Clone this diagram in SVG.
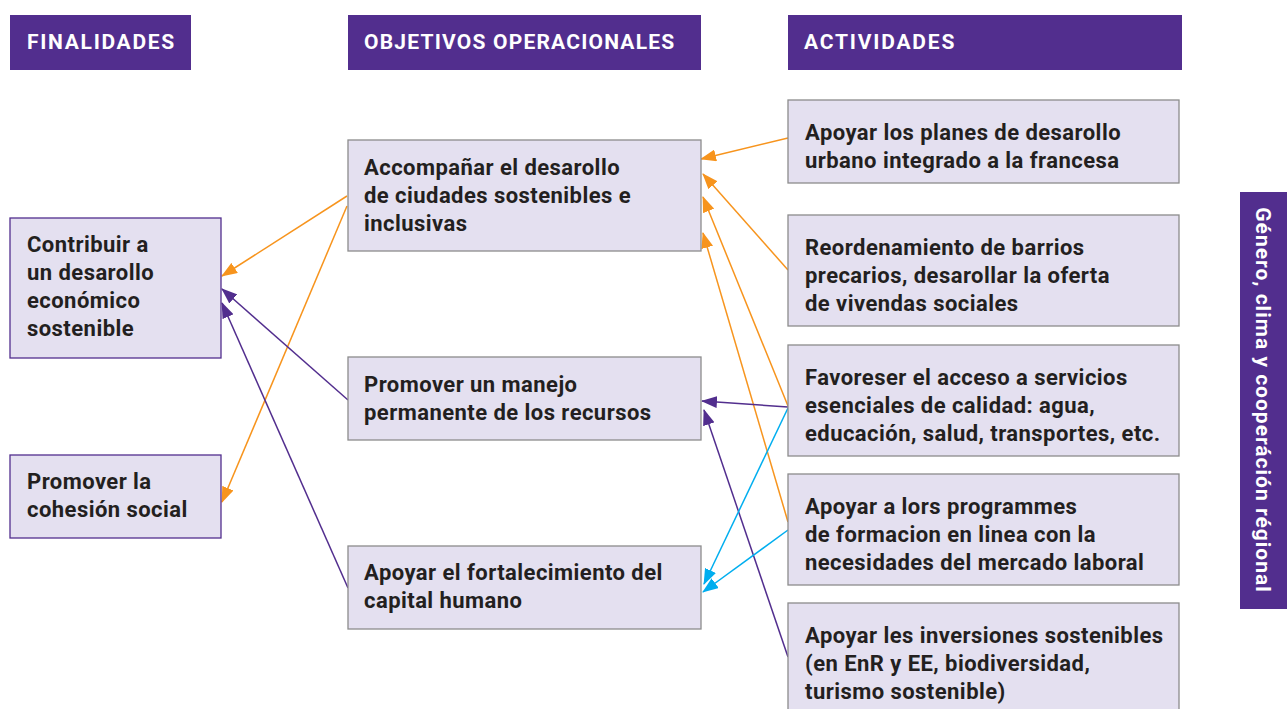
<svg xmlns="http://www.w3.org/2000/svg" width="1287" height="709" viewBox="0 0 1287 709">
<style>
.hdr{fill:#522e8e}
.hdrt{fill:#fff;font-family:Roboto,"Liberation Sans",sans-serif;font-weight:bold;font-size:21px;letter-spacing:1.2px}
.box{fill:#e4e0f0;stroke:#8c8c8c;stroke-width:1.3}
.boxl{fill:#e4e0f0;stroke:#522e8e;stroke-width:1.3}
.t{fill:#231f20;font-family:Roboto,"Liberation Sans",sans-serif;font-weight:bold;font-size:22px;letter-spacing:0.45px}
.o{stroke:#f7941d;stroke-width:1.5;fill:none;marker-end:url(#ao)}
.p{stroke:#522e8e;stroke-width:1.5;fill:none;marker-end:url(#ap)}
.c{stroke:#00aeef;stroke-width:1.5;fill:none;marker-end:url(#ac)}
</style>
<defs>
<marker id="ao" markerUnits="userSpaceOnUse" markerWidth="16" markerHeight="12" refX="15" refY="6" orient="auto"><path d="M0,0 L16,6 L0,12 Z" fill="#f7941d"/></marker>
<marker id="ap" markerUnits="userSpaceOnUse" markerWidth="16" markerHeight="12" refX="15" refY="6" orient="auto"><path d="M0,0 L16,6 L0,12 Z" fill="#522e8e"/></marker>
<marker id="ac" markerUnits="userSpaceOnUse" markerWidth="16" markerHeight="12" refX="15" refY="6" orient="auto"><path d="M0,0 L16,6 L0,12 Z" fill="#00aeef"/></marker>
</defs>
<rect width="1287" height="709" fill="#fff"/>
<g id="h1"><rect class="hdr" x="10" y="15" width="181" height="55"/><text class="hdrt" x="27" y="49" style="letter-spacing:1.7px">FINALIDADES</text></g>
<g id="h2"><rect class="hdr" x="348" y="15" width="353" height="55"/><text class="hdrt" x="364" y="49">OBJETIVOS OPERACIONALES</text></g>
<g id="h3"><rect class="hdr" x="788" y="15" width="394" height="55"/><text class="hdrt" x="804" y="49" style="letter-spacing:1.8px">ACTIVIDADES</text></g>
<g id="connectors">
<line class="o" x1="788" y1="138" x2="701" y2="159"/>
<line class="o" x1="788" y1="270" x2="703" y2="174"/>
<line class="o" x1="788" y1="406" x2="703" y2="197"/>
<line class="o" x1="788" y1="522" x2="703" y2="233"/>
<line class="o" x1="347" y1="196" x2="222" y2="276"/>
<line class="o" x1="347" y1="206" x2="222" y2="502"/>
<line class="p" x1="348" y1="400" x2="222" y2="289"/>
<line class="p" x1="348" y1="588" x2="222" y2="303"/>
<line class="p" x1="788" y1="407" x2="702" y2="401"/>
<line class="p" x1="788" y1="657" x2="704" y2="410"/>
<line class="c" x1="788" y1="408" x2="704" y2="584"/>
<line class="c" x1="788" y1="530" x2="703" y2="592"/>
</g>
<g id="n1"><rect class="boxl" x="10" y="218" width="211" height="140"/><text class="t" x="27" y="252">Contribuir a</text><text class="t" x="27" y="280">un desarollo</text><text class="t" x="27" y="308">económico</text><text class="t" x="27" y="336">sostenible</text></g>
<g id="n2"><rect class="boxl" x="10" y="455" width="211" height="83"/><text class="t" x="27" y="489">Promover la</text><text class="t" x="27" y="517">cohesión social</text></g>
<g id="n3"><rect class="box" x="348" y="140" width="353" height="111"/><text class="t" x="364" y="175">Accompañar el desarollo</text><text class="t" x="364" y="203">de ciudades sostenibles e</text><text class="t" x="364" y="231">inclusivas</text></g>
<g id="n4"><rect class="box" x="348" y="357" width="353" height="83"/><text class="t" x="364" y="392">Promover un manejo</text><text class="t" x="364" y="420">permanente de los recursos</text></g>
<g id="n5"><rect class="box" x="348" y="546" width="353" height="83"/><text class="t" x="364" y="580">Apoyar el fortalecimiento del</text><text class="t" x="364" y="608">capital humano</text></g>
<g id="n6"><rect class="box" x="788" y="100" width="391" height="83"/><text class="t" x="805" y="140">Apoyar los planes de desarollo</text><text class="t" x="805" y="168">urbano integrado a la francesa</text></g>
<g id="n7"><rect class="box" x="788" y="215" width="391" height="111"/><text class="t" x="805" y="255">Reordenamiento de barrios</text><text class="t" x="805" y="283">precarios, desarollar la oferta</text><text class="t" x="805" y="311">de vivendas sociales</text></g>
<g id="n8"><rect class="box" x="788" y="345" width="391" height="111"/><text class="t" x="805" y="385">Favoreser el acceso a servicios</text><text class="t" x="805" y="413">esenciales de calidad: agua,</text><text class="t" x="805" y="441">educación, salud, transportes, etc.</text></g>
<g id="n9"><rect class="box" x="788" y="474" width="391" height="111"/><text class="t" x="805" y="514">Apoyar a lors programmes</text><text class="t" x="805" y="542">de formacion en linea con la</text><text class="t" x="805" y="570">necesidades del mercado laboral</text></g>
<g id="n10"><rect class="box" x="788" y="603" width="391" height="120"/><text class="t" x="805" y="643">Apoyar les inversiones sostenibles</text><text class="t" x="805" y="671">(en EnR y EE, biodiversidad,</text><text class="t" x="805" y="699">turismo sostenible)</text></g>
<g id="side"><rect class="hdr" x="1240" y="192" width="47" height="417"/><text class="hdrt" x="0" y="0" text-anchor="middle" style="letter-spacing:1px" transform="translate(1256,400) rotate(90)">Género, clima y cooperáción régional</text></g>
</svg>
